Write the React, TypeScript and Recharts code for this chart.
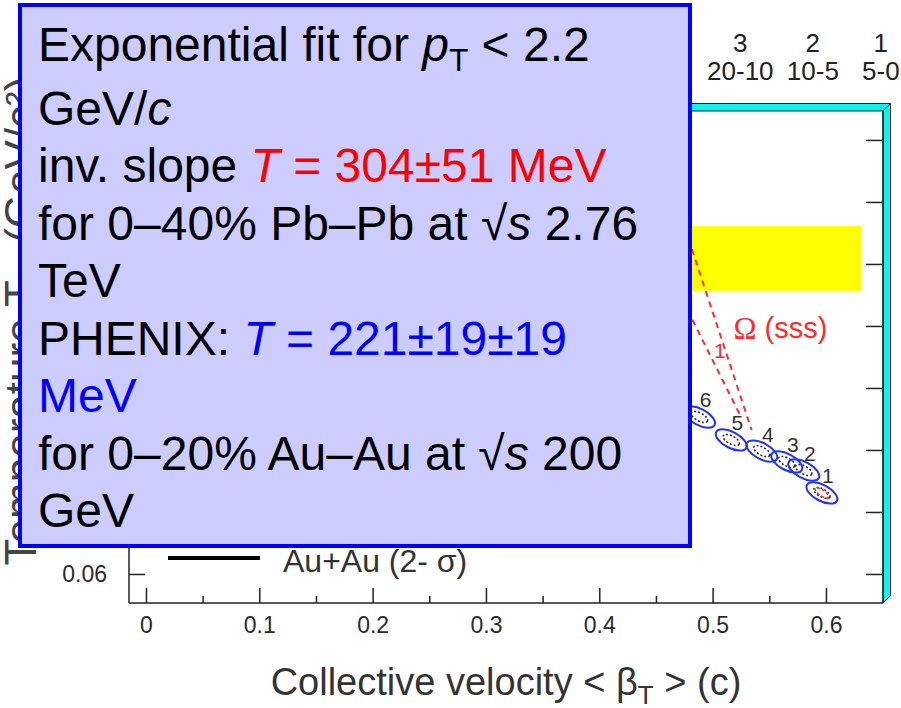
import { ComposedChart, XAxis, YAxis, Line, Scatter, ReferenceArea, ReferenceDot, Legend } from 'recharts';

const FONT = '"Liberation Sans", Arial, Helvetica, sans-serif';

// axes
const xDomain = [-0.0154, 0.6499];
const yDomain = [0.0508, 0.2095];
const xTicks = [0, 0.05, 0.1, 0.15, 0.2, 0.25, 0.3, 0.35, 0.4, 0.45, 0.5, 0.55, 0.6];
const yTicks = [0.06, 0.08, 0.1, 0.12, 0.14, 0.16, 0.18, 0.2];

// centrality classes written along the top
const centBins = ['9', '8', '7', '6', '5', '4', '3', '2', '1'];
const centRanges = ['80-70', '70-60', '60-50', '50-40', '40-30', '30-20', '20-10', '10-5', '5-0'];
const centPos = [0.09, 0.16, 0.23, 0.3, 0.37, 0.445, 0.524, 0.588, 0.648];

// Au+Au blast-wave contours (centre of each 2-sigma ellipse)
const auBins = ['1', '2', '3', '4', '5', '6', '7', '8', '9'];
const auBeta = [0.596, 0.58, 0.565, 0.543, 0.516, 0.488, 0.46, 0.42, 0.36];
const auTemp = [0.0863, 0.0937, 0.0963, 0.0998, 0.1034, 0.1108, 0.115, 0.12, 0.125];

// Omega (sss) contour, two dashed edges
const omegaOuterBeta = [0.46, 0.4825, 0.534];
const omegaOuterTemp = [0.1885, 0.1636, 0.1066];
const omegaInnerBeta = [0.46, 0.4825, 0.5237];
const omegaInnerTemp = [0.158, 0.1416, 0.1115];

// small red contour inside the most central bin
const coreBeta = [0.596];
const coreTemp = [0.0863];

// chemical freeze-out band
const bandBeta = [0, 0.6305];
const bandTemp = [0.1515, 0.1724];

const auContours = auBins.map((bin, i) => ({ beta: auBeta[i], temp: auTemp[i], bin }));
const omegaOuter = omegaOuterBeta.map((b, i) => ({ beta: b, temp: omegaOuterTemp[i] }));
const omegaInner = omegaInnerBeta.map((b, i) => ({ beta: b, temp: omegaInnerTemp[i] }));
const redCore = coreBeta.map((b, i) => ({ beta: b, temp: coreTemp[i] }));

const Contour = (props: any) => {
  const { cx, cy, payload } = props;
  if (cx == null || cy == null) return null;
  const rot = `rotate(28 ${cx} ${cy})`;
  return (
    <g>
      <ellipse cx={cx} cy={cy} rx={17} ry={8} fill="none" stroke="#2233ff" strokeWidth={2} transform={rot} />
      <ellipse cx={cx} cy={cy} rx={9} ry={4} fill="none" stroke="#222" strokeWidth={1.5} strokeDasharray="2 2" transform={rot} />
      <text x={cx + 6} y={cy - 17} textAnchor="middle" dominantBaseline="central" fontSize={21} fill="#333" fontFamily={FONT}>
        {payload.bin}
      </text>
    </g>
  );
};

const CoreShape = (props: any) => {
  const { cx, cy } = props;
  if (cx == null) return null;
  return (
    <ellipse cx={cx} cy={cy} rx={8} ry={3} fill="none" stroke="#ff2020" strokeWidth={1.5} strokeDasharray="3 2" transform={`rotate(35 ${cx} ${cy})`} />
  );
};

const Bevel = (props: any) => {
  const { x, y, width, height } = props;
  const d = 7.5;
  const r = x + width;
  const b = y + height;
  return (
    <g stroke="#222" strokeWidth={1} fill="#10f2f2">
      <polygon points={`${x + d},${y} ${x + 2 * d},${y - d} ${r + d},${y - d} ${r},${y}`} />
      <polygon points={`${r},${y} ${r + d},${y - d} ${r + d},${b - d} ${r},${b}`} />
    </g>
  );
};

const fmtX = (v: number) => (v === 0 ? '0' : v.toFixed(1));
const isMajor = (v: number) => Math.round(v * 100) % 10 === 0;

const BottomTick = (props: any) => {
  const { x, y, payload } = props;
  const v = payload.value;
  const major = isMajor(v);
  return (
    <g>
      <line x1={x} y1={y} x2={x} y2={y - (major ? 15 : 7)} stroke="#222" strokeWidth={1.5} />
      {major && (
        <text x={x} y={y + 30} textAnchor="middle" fontSize={23} fill="#2b2b2b" fontFamily={FONT}>
          {fmtX(v)}
        </text>
      )}
    </g>
  );
};

const TopTick = (props: any) => {
  const { x, y, payload } = props;
  const major = isMajor(payload.value);
  return <line x1={x} y1={y} x2={x} y2={y + (major ? 16 : 8)} stroke="#222" strokeWidth={1.5} />;
};

const LeftTick = (props: any) => {
  const { x, y, payload } = props;
  return (
    <g>
      <line x1={x} y1={y} x2={x + 16} y2={y} stroke="#222" strokeWidth={1.5} />
      <text x={x - 22} y={y} textAnchor="end" dominantBaseline="central" fontSize={23} fill="#2b2b2b" fontFamily={FONT}>
        {payload.value.toFixed(2)}
      </text>
    </g>
  );
};

const RightTick = (props: any) => {
  const { x, y } = props;
  return <line x1={x} y1={y} x2={x - 17} y2={y} stroke="#222" strokeWidth={1.5} />;
};

// centrality label drawn above the top frame at its beta position
const CentLabel = (i: number) => (props: any) => {
  const { cx, cy } = props;
  if (cx == null) return null;
  return (
    <g>
      <text x={cx} y={cy - 59} textAnchor="middle" fontSize={26} fill="#222" fontFamily={FONT}>
        {centBins[i]}
      </text>
      <text x={cx} y={cy - 31} textAnchor="middle" fontSize={26} fill="#222" fontFamily={FONT}>
        {centRanges[i]}
      </text>
    </g>
  );
};

const TextAt = (label: string, size: number, anchor: 'start' | 'middle', serifFirst = false) => (props: any) => {
  const { cx, cy } = props;
  if (cx == null) return null;
  return (
    <text x={cx} y={cy} textAnchor={anchor} dominantBaseline="central" fontSize={size} fill="#ff2a2a" fontFamily={FONT}>
      {serifFirst ? (
        <>
          <tspan fontFamily='"Liberation Serif", "DejaVu Serif", serif' fontSize={size + 2}>Ω</tspan>
          <tspan> (sss)</tspan>
        </>
      ) : (
        label
      )}
    </text>
  );
};

const LegendBox = () => (
  <div style={{ display: 'flex', alignItems: 'center', height: 40, fontFamily: FONT }}>
    <div style={{ width: 92, height: 4, background: '#000', marginLeft: 8 }} />
    <span style={{ marginLeft: 23, fontSize: 32, color: '#333', whiteSpace: 'nowrap', position: 'relative', top: 3 }}>
      Au+Au (2- σ)
    </span>
  </div>
);

const sub = { fontSize: '0.66em', position: 'relative' as const, top: '0.3em' };

const App = () => (
  <div style={{ position: 'absolute', left: 0, top: 0, width: 901, height: 708, background: '#fff' }}>
    <ComposedChart width={901} height={708} margin={{ top: 111, right: 0, bottom: 0, left: 0 }}>
      <XAxis
        dataKey="beta"
        type="number"
        domain={xDomain}
        allowDataOverflow
        ticks={xTicks}
        interval={0}
        height={105}
        tickSize={0}
        tickMargin={0}
        tickLine={false}
        tick={BottomTick}
        axisLine={{ stroke: '#222', strokeWidth: 1.5 }}
        label={{
          content: () => (
            <text x={506} y={695} textAnchor="middle" fontSize={38} fill="#333" fontFamily={FONT}>
              Collective velocity {'<'} β
              <tspan fontSize={26} dy={9}>T</tspan>
              <tspan dy={-9}> {'>'} (c)</tspan>
            </text>
          ),
        }}
      />
      <XAxis
        xAxisId="top"
        orientation="top"
        type="number"
        domain={xDomain}
        allowDataOverflow
        ticks={xTicks}
        interval={0}
        height={0}
        tickSize={0}
        tickMargin={0}
        tickLine={false}
        tick={TopTick}
        axisLine={{ stroke: '#222', strokeWidth: 1.5 }}
      />
      <YAxis
        dataKey="temp"
        type="number"
        domain={yDomain}
        allowDataOverflow
        ticks={yTicks}
        interval={0}
        width={129}
        tickSize={0}
        tickMargin={0}
        tickLine={false}
        tick={LeftTick}
        axisLine={{ stroke: '#222', strokeWidth: 1.5 }}
        label={{
          content: () => (
            <text x={36} y={321} textAnchor="middle" fontSize={44} fill="#444" fontFamily={FONT} transform="rotate(-90 36 321)">
              Temperature T
              <tspan fontSize={30} dy={10}>fo</tspan>
              <tspan dy={-10}> (GeV/c²)</tspan>
            </text>
          ),
        }}
      />
      <YAxis
        yAxisId="right"
        orientation="right"
        type="number"
        domain={yDomain}
        allowDataOverflow
        ticks={yTicks}
        interval={0}
        width={18}
        tickSize={0}
        tickMargin={0}
        tickLine={false}
        tick={RightTick}
        axisLine={{ stroke: '#222', strokeWidth: 1.5 }}
      />
      <ReferenceArea x1={bandBeta[0]} x2={bandBeta[1]} y1={bandTemp[0]} y2={bandTemp[1]} fill="#ffff00" fillOpacity={1} stroke="none" />
      <ReferenceArea
        x1={xDomain[0]}
        x2={xDomain[1]}
        y1={yDomain[0]}
        y2={yDomain[1]}
        ifOverflow="visible"
        shape={Bevel}
      />
      <Line data={omegaOuter} dataKey="temp" type="linear" stroke="#ff2a2a" strokeWidth={2} strokeDasharray="6 5" dot={false} isAnimationActive={false} legendType="none" />
      <Line data={omegaInner} dataKey="temp" type="linear" stroke="#ff2a2a" strokeWidth={2} strokeDasharray="6 5" dot={false} isAnimationActive={false} legendType="none" />
      <Scatter data={auContours} shape={Contour} isAnimationActive={false} legendType="none" />
      <Scatter data={redCore} shape={CoreShape} isAnimationActive={false} legendType="none" />
      <ReferenceDot x={0.518} y={0.1395} r={1} ifOverflow="visible" shape={TextAt('Ω (sss)', 29, 'start', true)} />
      <ReferenceDot x={0.506} y={0.1324} r={1} ifOverflow="visible" shape={TextAt('1', 21, 'middle')} />
      {centPos.map((p, i) => (
        <ReferenceDot key={centBins[i]} x={p} y={yDomain[1]} r={1} ifOverflow="visible" shape={CentLabel(i)} />
      ))}
      <Legend
        layout="horizontal"
        verticalAlign="middle"
        align="center"
        wrapperStyle={{ left: 160, top: 538, width: 400, height: 40 }}
        content={LegendBox}
      />
    </ComposedChart>
    <div
      style={{
        position: 'absolute',
        left: 18,
        top: 3,
        width: 674,
        height: 545,
        boxSizing: 'border-box',
        border: '4px solid #0000ff',
        background: '#ccccff',
        padding: '9px 0 0 16px',
        fontFamily: FONT,
        fontSize: 48,
        lineHeight: '57.5px',
        color: '#000',
        whiteSpace: 'nowrap',
      }}
    >
      <div>
        Exponential fit for <i>p</i>
        <span style={sub}>T</span> &lt; 2.2
      </div>
      <div>
        GeV/<i>c</i>
      </div>
      <div>
        inv. slope <span style={{ color: '#ff0000' }}><i>T</i> = 304±51 MeV</span>
      </div>
      <div>
        for 0–40% Pb–Pb at √<i>s</i> 2.76
      </div>
      <div>TeV</div>
      <div>
        PHENIX: <span style={{ color: '#0000ff' }}><i>T</i> = 221±19±19</span>
      </div>
      <div style={{ color: '#0000ff' }}>MeV</div>
      <div>
        for 0–20% Au–Au at √<i>s</i> 200
      </div>
      <div>GeV</div>
    </div>
  </div>
);

export default App;
